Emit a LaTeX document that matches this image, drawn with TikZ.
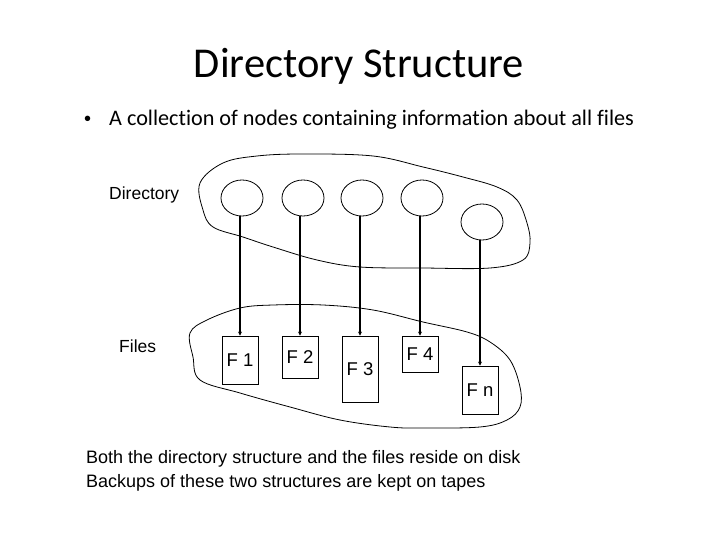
\documentclass[tikz,border=0pt]{standalone}
\usepackage{fontspec}
\setmainfont{Liberation Sans}
\newfontfamily\calib[Ligatures=NoCommon]{Carlito}
\usetikzlibrary{shapes.geometric,arrows.meta}
\begin{document}
\begin{tikzpicture}[x=1pt,y=-1pt,
  dirnode/.style={draw,line width=0.8pt,ellipse,inner sep=0pt,minimum width=42pt,minimum height=36pt},
  filebox/.style={draw,line width=0.8pt,rectangle,inner sep=0pt,minimum width=36pt,font=\fontsize{18.5}{20}\selectfont},
  conn/.style={line width=1.8pt,-{Stealth[length=4pt,width=4pt]}},
  blob/.style={line width=0.8pt},
  lbl/.style={anchor=base west,inner sep=0pt,font=\fontsize{17.5}{20}\selectfont}]
\useasboundingbox (0,0) rectangle (720,540);
% title and bullet
\node[anchor=base,inner sep=0pt,font=\calib\fontsize{42.5}{46}\selectfont] (title) at (359,78) {Directory Structure};
\node[anchor=base west,inner sep=0pt,font=\fontsize{20}{24}\selectfont] (bul) at (84,126) {•};
\node[anchor=base west,inner sep=0pt,font=\calib\fontsize{22.2}{26}\selectfont] (btext) at (109,126) {A collection of nodes containing information about all files};
% blobs
\draw[blob] plot[smooth cycle,tension=0.6] coordinates {(200,183) (223,163) (257,156) (303,154) (373,156) (423,167) (463,177) (497,187) (517,200) (527,223) (530,243) (523,260) (490,268) (423,268) (360,267) (317,260) (273,247) (243,237) (213,227) (203,210)};
\draw[blob] plot[smooth cycle,tension=0.6] coordinates {(190,333) (207,320) (240,308) (273,305) (323,305) (373,310) (423,322) (467,332) (490,342) (510,360) (520,387) (520,407) (507,420) (480,427) (423,428) (390,427) (340,420) (290,407) (240,393) (200,380) (193,357)};
% labels
\node[lbl] (ldir) at (109,200) {Directory};
\node[lbl] (lfiles) at (119,352) {Files};
% directory nodes
\node[dirnode] (c1) at (242,198) {};
\node[dirnode] (c2) at (303,198) {};
\node[dirnode] (c3) at (362,198) {};
\node[dirnode] (c4) at (422,198) {};
\node[dirnode] (c5) at (482,222) {};
% files
\node[filebox,minimum height=48pt] (f1) at (240,360) {F 1};
\node[filebox,minimum height=42pt] (f2) at (300,357) {F 2};
\node[filebox,minimum height=66pt] (f3) at (360,369) {F 3};
\node[filebox,minimum height=36pt] (f4) at (420,354) {F 4};
\node[filebox,minimum height=48pt] (fn) at (480,390) {F n};
% connectors
\draw[conn] (c1.south -| f1.north) -- (f1.north);
\draw[conn] (c2.south -| f2.north) -- (f2.north);
\draw[conn] (c3.south -| f3.north) -- (f3.north);
\draw[conn] (c4.south -| f4.north) -- (f4.north);
\draw[conn] (c5.south -| fn.north) -- (fn.north);
% bottom text
\node[anchor=base west,inner sep=0pt,font=\fontsize{18}{24}\selectfont] (b1) at (86,463) {Both the directory structure and the files reside on disk};
\node[anchor=base west,inner sep=0pt,font=\fontsize{18}{24}\selectfont] (b2) at (86,487) {Backups of these two structures are kept on tapes};
\end{tikzpicture}
\end{document}
